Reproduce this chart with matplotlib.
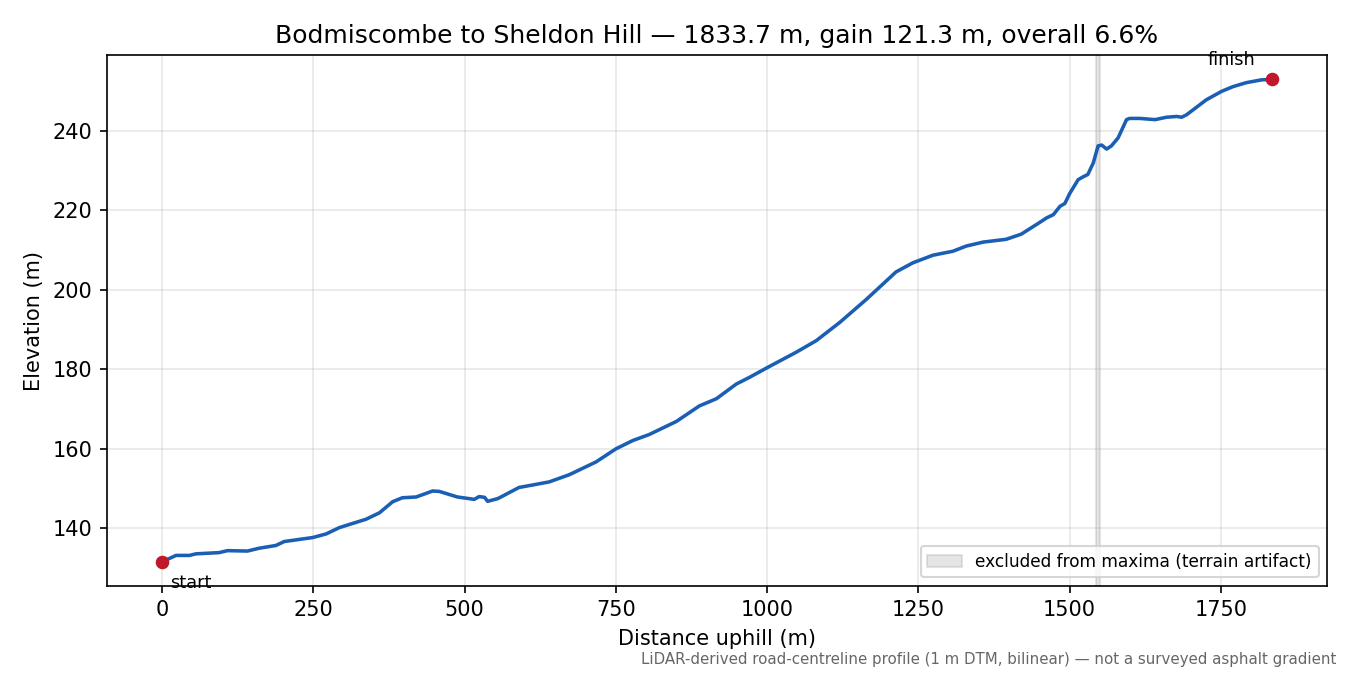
import matplotlib
matplotlib.use("Agg")
import matplotlib.pyplot as plt

# elevation profile (distance uphill m, elevation m)
dist = [0, 23, 45, 56, 94, 108, 141, 160, 188, 202, 249, 271, 293, 337, 359,
        381, 397, 420, 447, 458, 488, 516, 524, 533, 538, 555, 590, 612, 640,
        673, 717, 750, 778, 805, 850, 888, 916, 949, 971, 1001, 1048, 1081,
        1120, 1164, 1191, 1213, 1241, 1274, 1307, 1329, 1357, 1395, 1420,
        1450, 1462, 1473, 1484, 1492, 1500, 1514, 1522, 1530, 1539, 1547,
        1553, 1561, 1569, 1580, 1594, 1599, 1616, 1641, 1660, 1677, 1685,
        1693, 1726, 1751, 1770, 1792, 1817, 1833.7]
elev = [131.6, 133.2, 133.2, 133.6, 133.9, 134.4, 134.3, 135.0, 135.7, 136.7,
        137.7, 138.6, 140.2, 142.3, 143.9, 146.7, 147.7, 147.9, 149.4, 149.3,
        147.9, 147.3, 148.0, 147.8, 146.8, 147.5, 150.3, 150.9, 151.7, 153.5,
        156.7, 160.0, 162.1, 163.6, 166.9, 170.8, 172.6, 176.3, 178.0, 180.5,
        184.3, 187.2, 191.8, 197.6, 201.4, 204.5, 206.8, 208.7, 209.7, 211.0,
        212.0, 212.7, 214.0, 216.9, 218.1, 218.9, 221.0, 221.7, 224.2, 227.7,
        228.4, 229.0, 231.9, 236.2, 236.4, 235.4, 236.2, 238.2, 242.8, 243.1,
        243.1, 242.8, 243.4, 243.6, 243.4, 244.0, 247.8, 249.9, 251.1, 252.1,
        252.8, 252.9]

# terrain artifact excluded from maxima
excl_start = 1544
excl_end = 1550

length = dist[-1]
gain = elev[-1] - elev[0]
grade = gain / length * 100

fig, ax = plt.subplots(figsize=(9, 4.5), dpi=150)
fig.subplots_adjust(left=0.079, right=0.983, top=0.918, bottom=0.132)

ax.axvspan(excl_start, excl_end, color='grey', alpha=0.2,
           label='excluded from maxima (terrain artifact)')
ax.plot(dist, elev, color='#1a5fb4', lw=1.7)
ax.plot([dist[0], dist[-1]], [elev[0], elev[-1]], 'o', color='#c0182a',
        ms=5.5, zorder=3)

ax.annotate('start', (dist[0], elev[0]), xytext=(4, -6),
            textcoords='offset points', ha='left', va='top', fontsize=8.5)
ax.annotate('finish', (dist[-1], elev[-1]), xytext=(-8, 5),
            textcoords='offset points', ha='right', va='bottom', fontsize=8.5)

ax.set_title('Bodmiscombe to Sheldon Hill \u2014 %.1f m, gain %.1f m, overall %.1f%%'
             % (length, gain, grade))
ax.set_xlabel('Distance uphill (m)')
ax.set_ylabel('Elevation (m)')
ax.grid(alpha=0.3)
ax.legend(loc='lower right', fontsize=8.2)

fig.text(0.99, 0.012,
         'LiDAR-derived road-centreline profile (1 m DTM, bilinear) \u2014 '
         'not a surveyed asphalt gradient',
         ha='right', va='bottom', fontsize=7.2, color='0.4')

fig.savefig('out.png', dpi=150)
